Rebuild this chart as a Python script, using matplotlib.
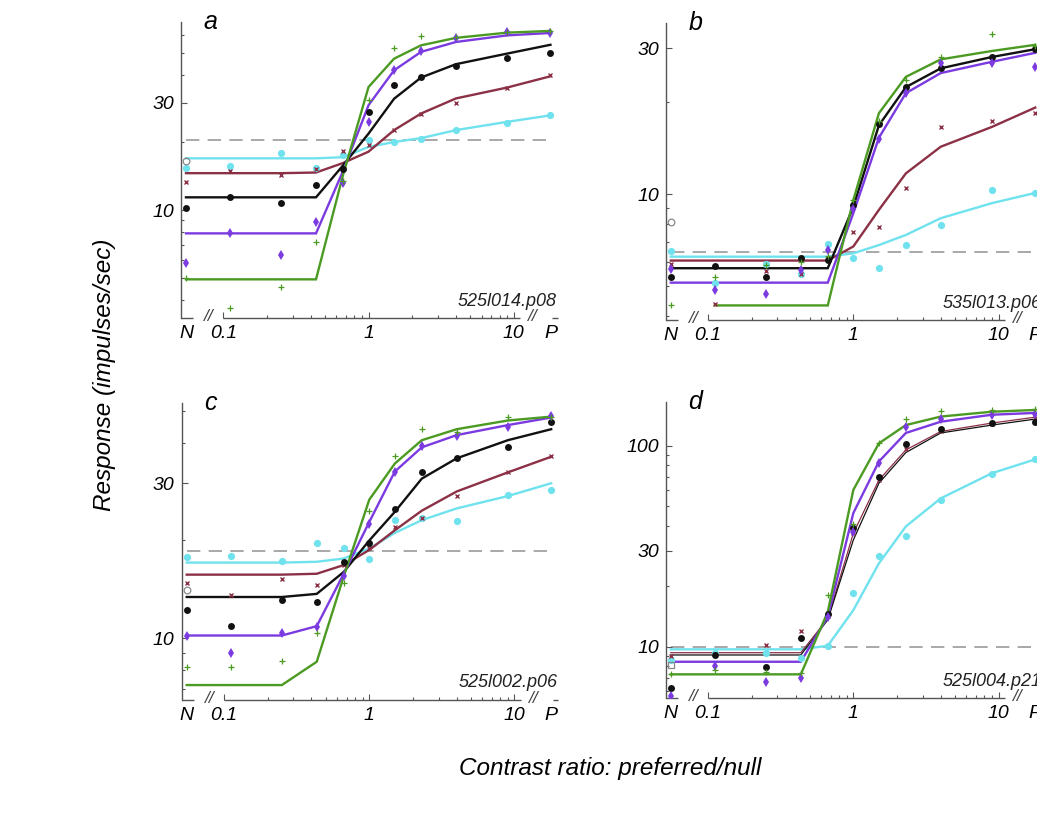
import numpy as np
import matplotlib
matplotlib.use('Agg')
import matplotlib.pyplot as plt
from matplotlib.ticker import FixedLocator, NullFormatter

plt.rcParams['font.family'] = ['Liberation Sans', 'DejaVu Sans']
plt.rcParams['font.style'] = 'italic'

# contrast ratio preferred/null; N = null alone, P = preferred alone
ratios = ['N', 1/9, 1/4, 1/2.3, 1/1.5, 1, 1.5, 2.3, 4, 9, 'P']
N_POS, P_POS = 0.0553, 17.9
x = [N_POS if r == 'N' else P_POS if r == 'P' else r for r in ratios]

# panel a  (525l014.p08)
fit_a = {
    'cyan':   [17.0, 17.0, 17.0, 17.0, 17.2, 19.1, 20.1, 20.9, 22.7, 24.7, 26.4],
    'maroon': [14.6, 14.6, 14.6, 14.7, 16.2, 18.2, 22.7, 26.9, 31.4, 35.1, 39.4],
    'black':  [11.4, 11.4, 11.4, 11.4, 15.8, 21.9, 31.3, 38.9, 44.6, 49.7, 54.4],
    'purple': [7.88, 7.88, 7.88, 7.88, 14.9, 29.3, 41.9, 50.6, 56.0, 59.9, 61.4],
    'green':  [4.92, 4.92, 4.92, 4.92, 14.3, 35.3, 47.2, 54.1, 58.4, 61.6, 62.7],
}
pts_a = {
    'cyan':   [15.4, 15.7, 17.9, 15.4, 17.5, 20.5, 20.0, 20.8, 22.7, 24.5, 26.4],
    'maroon': [13.4, 14.9, 14.4, 15.3, 18.3, 19.5, 22.8, 26.9, 30.0, 35.1, 39.8],
    'black':  [10.2, 11.4, 10.8, 12.9, 15.3, 27.4, 36.2, 39.2, 43.6, 47.5, 50.0],
    'purple': [5.84, 7.93, 6.29, 8.87, 13.2, 24.7, 42.2, 51.1, 58.6, 62.1, 61.1],
    'green':  [4.97, 3.66, 4.56, 7.24, 13.5, 31.0, 52.8, 59.6, 58.9, 62.0, 62.7],
}
null_a, ref_a = 16.5, 20.6

# panel b  (535l013.p06)
fit_b = {
    'cyan':   [6.25, 6.25, 6.25, 6.25, 6.25, 6.41, 6.82, 7.36, 8.35, 9.35, 10.1],
    'maroon': [6.07, 6.07, 6.07, 6.07, 6.07, 6.75, 8.89, 11.7, 14.3, 16.6, 19.2],
    'black':  [5.73, 5.73, 5.73, 5.73, 5.73, 9.1, 16.8, 22.4, 25.8, 28.1, 29.8],
    'purple': [5.14, 5.14, 5.14, 5.14, 5.14, 8.67, 15.3, 21.4, 24.9, 27.1, 29.0],
    'green':  [np.nan, 4.33, 4.33, 4.33, 4.33, 9.58, 18.4, 24.2, 27.6, 29.4, 30.8],
}
pts_b = {
    'cyan':   [6.5, 5.14, 5.9, 5.5, 6.87, 6.18, 5.73, 6.8, 7.94, 10.3, 10.1],
    'maroon': [5.9, 4.39, 5.6, 5.5, 6.2, 7.52, 7.8, 10.5, 16.6, 17.3, 18.4],
    'black':  [5.38, 5.83, 5.38, 6.18, 6.1, 9.23, 17.0, 22.4, 25.9, 28.2, 29.8],
    'purple': [5.69, 4.86, 4.72, 5.66, 6.58, 8.93, 15.2, 21.5, 26.8, 26.9, 26.0],
    'green':  [4.33, 5.38, 5.88, 6.0, 6.3, 9.6, 17.3, 23.6, 28.2, 33.3, 30.5],
}
null_b, ref_b = 8.13, 6.49

# panel c  (525l002.p06)
fit_c = {
    'cyan':   [17.1, 17.1, 17.1, 17.2, 17.6, 18.9, 21.1, 23.1, 25.1, 27.4, 30.0],
    'maroon': [15.7, 15.7, 15.7, 15.8, 16.8, 18.7, 21.5, 24.7, 28.3, 32.4, 36.2],
    'black':  [13.4, 13.4, 13.4, 13.7, 16.0, 20.0, 24.5, 31.0, 35.8, 40.7, 44.0],
    'purple': [10.2, 10.2, 10.2, 10.9, 15.8, 22.8, 32.6, 38.7, 42.2, 45.3, 47.8],
    'green':  [7.18, 7.18, 7.18, 8.47, 15.5, 26.7, 34.5, 40.7, 44.0, 46.8, 48.1],
}
pts_c = {
    'cyan':   [17.8, 17.9, 17.3, 19.7, 18.9, 17.5, 23.1, 23.5, 23.0, 27.6, 28.6],
    'maroon': [14.8, 13.6, 15.2, 14.6, 16.8, 18.9, 22.0, 23.5, 27.4, 32.4, 36.5],
    'black':  [12.2, 10.9, 13.1, 12.9, 17.2, 19.7, 25.0, 32.4, 36.0, 38.7, 46.2],
    'purple': [10.2, 9.04, 10.4, 10.8, 15.5, 22.4, 32.6, 39.1, 42.0, 44.8, 48.3],
    'green':  [8.18, 8.18, 8.53, 10.4, 14.8, 24.7, 36.5, 44.0, 43.0, 47.9, 48.0],
}
null_c, ref_c = 14.1, 18.6

# panel d  (525l004.p21)
fit_d = {
    'cyan':   [9.7, 9.7, 9.7, 9.7, 10.1, 15.2, 26.0, 39.7, 54.8, 73.1, 85.7],
    'maroon': [9.33, 9.33, 9.33, 9.33, 13.8, 36.7, 67.6, 95.5, 118, 130, 139],
    'black':  [9.09, 9.09, 9.09, 9.09, 13.6, 34.0, 65.2, 92.7, 116, 127, 136],
    'purple': [8.41, 8.41, 8.41, 8.41, 14.1, 46.3, 83.6, 116, 132, 143, 146],
    'green':  [7.28, 7.28, 7.28, 7.28, 14.9, 60.4, 103, 127, 140, 148, 151],
}
pts_d = {
    'cyan':   [8.6, 9.3, 9.33, 8.8, 10.1, 18.6, 28.4, 35.7, 53.8, 72.4, 85.7],
    'maroon': [9.0, 9.2, 10.2, 12.0, 14.2, 37.0, 68.0, 96.0, 118, 128, 137],
    'black':  [6.21, 9.1, 7.9, 11.0, 14.5, 38.9, 69.8, 102, 122, 130, 131],
    'purple': [5.68, 8.02, 6.7, 6.97, 14.0, 37.4, 82.6, 124, 136, 143, 145],
    'green':  [7.3, 7.66, 7.5, 7.4, 18.1, 41.0, 103, 136, 150, 151, 152],
}
null_d, ref_d = 8.1, 10.0

colors = {'cyan': '#6fe2ee', 'maroon': '#8c3046', 'black': '#111111',
          'purple': '#7b3be0', 'green': '#4b9a22'}
marks = {
    'cyan':   dict(marker='o', ms=5.2, mew=0),
    'maroon': dict(marker='x', ms=3.2, mew=1.0),
    'black':  dict(marker='o', ms=5.0, mew=0),
    'purple': dict(marker='d', ms=4.8, mew=0),
    'green':  dict(marker='+', ms=4.2, mew=0.9),
}

panels = [
    ('a', fit_a, pts_a, null_a, 'o', ref_a, '525l014.p08', (3.31, 68.7), [10, 30],
     [0.1745, 0.6112, 0.3636, 0.3619], {}),
    ('b', fit_b, pts_b, null_b, 'o', ref_b, '535l013.p06', (3.88, 36.3), [10, 30],
     [0.6420, 0.6088, 0.3636, 0.3631], {}),
    ('c', fit_c, pts_c, null_c, 'o', ref_c, '525l002.p06', (6.46, 53.0), [10, 30],
     [0.1752, 0.1443, 0.3636, 0.3631], {}),
    ('d', fit_d, pts_d, null_d, 's', ref_d, '525l004.p21', (5.55, 166), [10, 30, 100],
     [0.6420, 0.1467, 0.3636, 0.3622], {'black': 0.9, 'maroon': 0.9}),
]

fig = plt.figure(figsize=(10.37, 8.18), dpi=100)
axc = '#555555'

for letter, fit, pts, null, null_m, ref, name, ylim, yt, pos, thin in panels:
    ax = fig.add_axes(pos)
    ax.set_xscale('log')
    ax.set_yscale('log')
    ax.set_xlim(10 ** -1.292, 10 ** 1.305)
    ax.set_ylim(*ylim)

    ax.hlines(ref, N_POS, P_POS, colors='#9a9a9a', lw=1.2,
              linestyles=(0, (8, 5)), zorder=1)
    for key in ['cyan', 'maroon', 'black', 'purple', 'green']:
        ax.plot(x, fit[key], color=colors[key], lw=thin.get(key, 1.7),
                solid_joinstyle='miter', zorder=2)
    for key in ['cyan', 'maroon', 'black', 'purple', 'green']:
        ax.plot(x, pts[key], ls='none', color=colors[key],
                mfc=colors[key], mec=colors[key], zorder=3, **marks[key])
    ax.plot([N_POS], [null], ls='none', marker=null_m, ms=4.8, mfc='none',
            mec='#888888', mew=0.9, zorder=3)

    for s in ['top', 'right', 'bottom']:
        ax.spines[s].set_visible(False)
    ax.spines['left'].set_color(axc)
    ax.spines['left'].set_linewidth(1.0)

    # broken x axis
    tr = ax.get_xaxis_transform()
    for x0, x1 in [(10 ** -1.292, 0.0621), (0.0997, 11.1), (18.4, 20.1)]:
        ax.plot([x0, x1], [0, 0], color=axc, lw=1.0, transform=tr,
                clip_on=False, solid_capstyle='butt')
    for xb in [0.0796, 13.6]:
        ax.text(xb, 0.005, '//', transform=tr, ha='center', va='center',
                fontsize=12.5, color='#444444')

    ax.set_xticks([N_POS, 0.1, 1, 10, P_POS], ['N', '0.1', '1', '10', 'P'])
    ax.xaxis.set_minor_locator(FixedLocator(
        [m * 0.1 for m in range(2, 10)] + list(range(2, 10))))
    ax.xaxis.set_minor_formatter(NullFormatter())
    for i in (0, 4):
        ax.xaxis.get_major_ticks()[i].tick1line.set_visible(False)

    ax.yaxis.set_major_locator(FixedLocator(yt))
    ax.set_yticklabels([str(v) for v in yt])
    ax.yaxis.set_minor_locator(FixedLocator(
        [m * 10 ** e for e in range(0, 3) for m in range(1, 10)
         if m * 10 ** e not in yt]))
    ax.yaxis.set_minor_formatter(NullFormatter())

    ax.tick_params(which='both', direction='in', color=axc, width=0.8,
                   labelsize=14, pad=5)
    ax.tick_params(which='major', length=4)
    ax.tick_params(which='minor', length=2.5)
    for lab in ax.get_xticklabels() + ax.get_yticklabels():
        lab.set_fontstyle('italic')

    ax.text(0.06, 0.975, letter, transform=ax.transAxes, fontsize=18,
            va='baseline', ha='left')
    ax.text(0.997, 0.042, name, transform=ax.transAxes, fontsize=13,
            va='baseline', ha='right', color='#222222')

fig.text(0.101, 0.5416, 'Response (impulses/sec)', rotation=90,
         ha='center', va='center', fontsize=17.5)
fig.text(0.588, 0.061, 'Contrast ratio: preferred/null',
         ha='center', va='center', fontsize=17.5)

fig.savefig('out.png', dpi=100)
